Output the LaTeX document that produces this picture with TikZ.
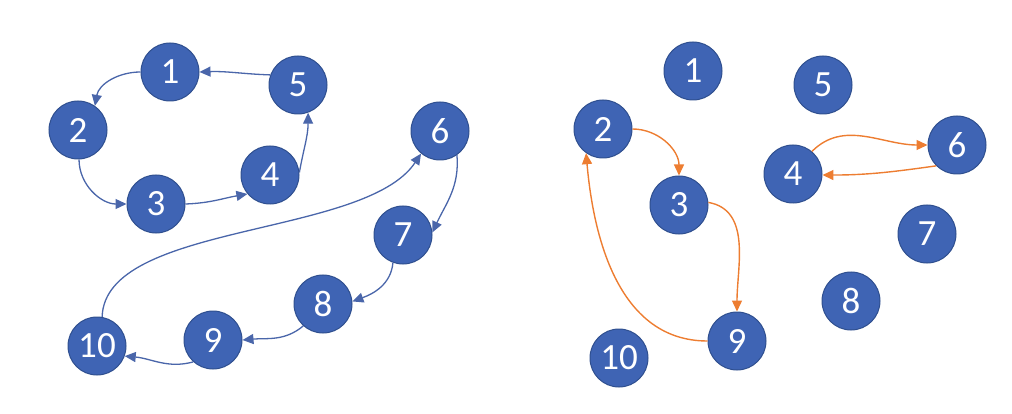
\documentclass[tikz,border=0pt]{standalone}
\usepackage{fontspec}
\setmainfont{Carlito}
\usetikzlibrary{arrows.meta}
\definecolor{nodefill}{HTML}{3F64B4}
\definecolor{nodeedge}{HTML}{2F4F8F}
\definecolor{bluearc}{HTML}{4A66AA}
\definecolor{orangearc}{HTML}{ED7D31}
\tikzset{
  vnode/.style={circle,fill=nodefill,draw=nodeedge,line width=1pt,minimum size=58pt,inner sep=0pt,text=white,font=\fontsize{37}{37}\selectfont},
  barc/.style={draw=bluearc,line width=1.3pt,-{Triangle[length=11pt,width=10pt]}},
  oarc/.style={draw=orangearc,line width=1.4pt,-{Triangle[length=11pt,width=10pt]}}
}
\begin{document}
\begin{tikzpicture}[x=1pt,y=-1pt]
\useasboundingbox (0,0) rectangle (1012,414);
% left graph
\node[vnode] (L1) at (170,72) {1};
\node[vnode] (L2) at (78,130) {2};
\node[vnode] (L3) at (156,204) {3};
\node[vnode] (L4) at (270,175) {4};
\node[vnode] (L5) at (298,85) {5};
\node[vnode] (L6) at (440,131) {6};
\node[vnode] (L7) at (403,235) {7};
\node[vnode] (L8) at (323,304) {8};
\node[vnode] (L9) at (213,340) {9};
\node[vnode] (L10) at (97,346) {10};
\draw[barc] (L1.180) to[out=180,in=80] (L2.55);
\draw[barc] (L5.160) to[out=178,in=2] (L1.0);
\draw[barc] (L2.272) to[out=270,in=180] (L3.180);
\draw[barc] (L3.0) to[out=2,in=190] (L4.220);
\draw[barc] (L4.5) to[out=80,in=270] (L5.290);
\draw[barc] (L10.80) .. controls (105,222) and (365,238) .. (L6.230);
\draw[barc] (L6.305) to[out=275,in=65] (L7.5);
\draw[barc] (L7.250) to[out=265,in=20] (L8.5);
\draw[barc] (L8.228) to[out=220,in=5] (L9.0);
\draw[barc] (L9.228) to[out=195,in=355] (L10.340);
% right graph
\node[vnode] (R1) at (693,71) {1};
\node[vnode] (R2) at (603,129) {2};
\node[vnode] (R3) at (679,205) {3};
\node[vnode] (R4) at (793,174) {4};
\node[vnode] (R5) at (823,85) {5};
\node[vnode] (R6) at (957,145) {6};
\node[vnode] (R7) at (927,234) {7};
\node[vnode] (R8) at (851,301) {8};
\node[vnode] (R9) at (737,341) {9};
\node[vnode] (R10) at (619,358) {10};
\draw[oarc] (R2.0) to[out=0,in=90] (R3.90);
\draw[oarc] (R3.5) to[out=-10,in=90] (R9.90);
\draw[oarc] (R9.180) to[out=180,in=275] (R2.235);
\draw[oarc] (R4.50) to[out=45,in=180] (R6.180);
\draw[oarc] (R6.225) to[out=188,in=0] (R4.358);
\end{tikzpicture}
\end{document}
